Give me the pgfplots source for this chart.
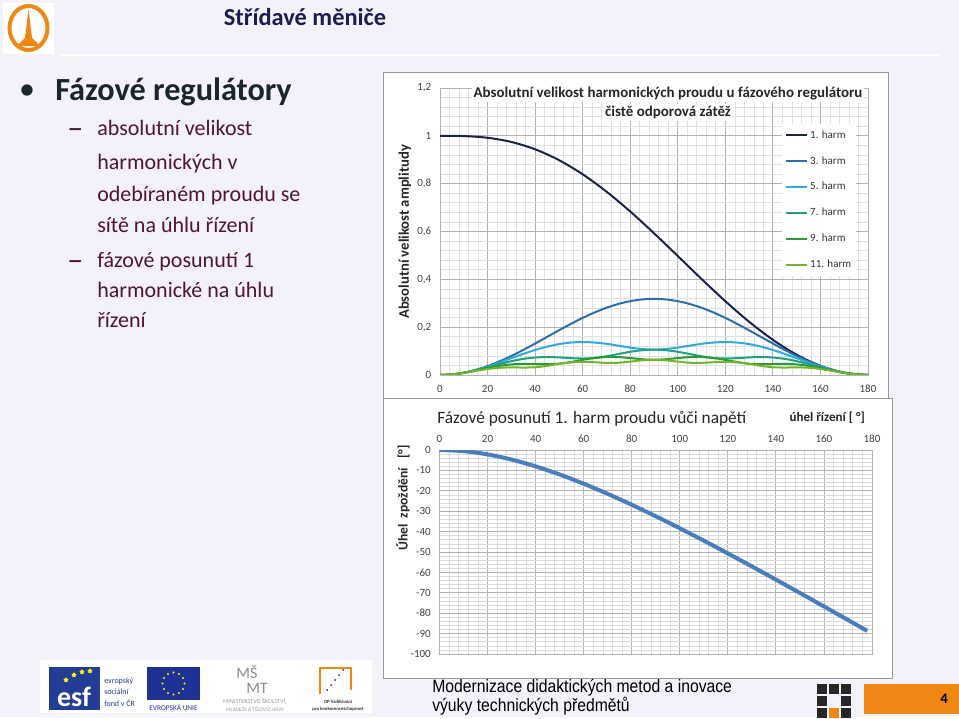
\documentclass[border=0pt]{standalone}
\usepackage{fontspec}
\setmainfont{Carlito}
\newfontfamily\footfont[FakeStretch=0.88]{Liberation Sans}
\usepackage{pgfplots}
\pgfplotsset{compat=1.18}
\usetikzlibrary{shapes.geometric}
\definecolor{bg}{RGB}{243,241,250}
\definecolor{hA}{RGB}{25,35,75}
\definecolor{hB}{RGB}{45,110,175}
\definecolor{hC}{RGB}{50,170,220}
\definecolor{hD}{RGB}{30,160,130}
\definecolor{hE}{RGB}{40,155,50}
\definecolor{hF}{RGB}{115,180,40}
\definecolor{phase}{RGB}{74,126,187}
\definecolor{orng}{RGB}{240,135,20}
\definecolor{navy}{RGB}{28,28,80}
\definecolor{maroon}{RGB}{80,22,50}
\definecolor{headc}{RGB}{25,38,45}
\definecolor{esfblue}{RGB}{35,60,150}
\definecolor{eublue}{RGB}{30,50,150}
\begin{document}
\begin{tikzpicture}[x=0.75pt,y=0.75pt]
\fill[bg] (0,0) rectangle (959,717);
% header
\draw[white, line width=1.5pt] (60,717-55) -- (940,717-55);
\fill[white] (3,717-3) rectangle (54,717-54);
\draw[orng, line width=3pt] (28.5,717-28) ellipse (19 and 22);
\fill[orng] (28.5,717-9) -- (25,717-38) -- (17,717-46) -- (40,717-46) -- (32,717-38) -- cycle;
\node[font=\bfseries\fontsize{18.3}{20}\selectfont, text=navy] at (305,717-17) {Střídavé měniče};
% left text
\node[text=headc, font=\fontsize{24}{27}\selectfont] at (27,717-92) {•};
\node[anchor=west, inner sep=0, text=headc, font=\bfseries\fontsize{24.2}{27}\selectfont] at (55,717-92) {Fázové regulátory};
\begin{scope}[every node/.style={anchor=base west, inner sep=0, text=maroon, font=\fontsize{16.5}{20}\selectfont}]
\node[font=\fontsize{24}{26}\selectfont] at (67,717-139) {–};
\node at (97,717-136) {absolutní velikost};
\node at (97,717-170) {harmonických v};
\node at (97,717-202) {odebíraném proudu se};
\node at (97,717-233) {sítě na úhlu řízení};
\node[font=\fontsize{24}{26}\selectfont] at (67,717-271) {–};
\node at (97,717-268) {fázové posunutí 1};
\node at (97,717-298) {harmonické na úhlu};
\node at (97,717-328) {řízení};
\end{scope}
% top chart
\filldraw[fill=white, draw=black!40] (383,717-72) rectangle (888,717-400);
\begin{axis}[
  at={(330pt,256.5pt)}, anchor=south west,
  scale only axis, width=321pt, height=215.25pt,
  xmin=0, xmax=180, ymin=0, ymax=1.2,
  xtick={0,20,...,180}, ytick={0,0.2,0.4,0.6,0.8,1,1.2},
  minor x tick num=4, minor y tick num=4,
  grid=both,
  major grid style={draw=black!30, line width=0.6pt},
  minor grid style={draw=black!12, line width=0.5pt},
  axis line style={draw=black!30},
  tick style={draw=none},
  ticklabel style={font=\fontsize{8.25}{10}\selectfont, text=black!75},
  yticklabel style={xshift=-3pt},
  xticklabel style={yshift=-4pt},
  /pgf/number format/use comma,
  /pgf/number format/1000 sep={},
  /pgf/number format/assume math mode=true,
  legend style={at={(0.799,0.876)}, anchor=north west, draw=none, fill=white,
    inner xsep=2pt, inner ysep=3pt, font=\fontsize{8.25}{9}\selectfont,
    row sep=8.2pt, text=black!80},
  legend cell align=left,
  legend image code/.code={\draw[#1] (0pt,0pt) -- (15.5pt,0pt);},
  every axis plot/.append style={line width=1.5pt, smooth},
]
\addplot[hA] coordinates {(0,1) (10,0.9989) (20,0.9919) (30,0.9744) (40,0.9437) (50,0.8986) (60,0.8392) (70,0.7668) (80,0.6837) (90,0.5927) (100,0.4974) (110,0.4014) (120,0.3086) (130,0.2226) (140,0.1469) (150,0.0846) (160,0.0383) (170,0.0097) (180,0)};
\addlegendentry{1. harm}
\addplot[hB] coordinates {(0,0) (5,0.0024) (10,0.0096) (15,0.0213) (20,0.0372) (25,0.0569) (30,0.0796) (35,0.1047) (40,0.1315) (45,0.1592) (50,0.1868) (55,0.2136) (60,0.2387) (65,0.2615) (70,0.2811) (75,0.2970) (80,0.3087) (85,0.3159) (90,0.3183) (95,0.3159) (100,0.3087) (105,0.2970) (110,0.2811) (115,0.2615) (120,0.2387) (125,0.2136) (130,0.1868) (135,0.1592) (140,0.1315) (145,0.1047) (150,0.0796) (155,0.0569) (160,0.0372) (165,0.0213) (170,0.0096) (175,0.0024) (180,0)};
\addlegendentry{3. harm}
\addplot[hC] coordinates {(0,0) (5,0.0024) (10,0.0095) (15,0.0207) (20,0.0352) (25,0.0521) (30,0.0702) (35,0.0881) (40,0.1046) (45,0.1186) (50,0.1292) (55,0.1357) (60,0.1378) (65,0.1358) (70,0.1304) (75,0.1227) (80,0.1146) (85,0.1085) (90,0.1061) (95,0.1085) (100,0.1146) (105,0.1227) (110,0.1304) (115,0.1358) (120,0.1378) (125,0.1357) (130,0.1292) (135,0.1186) (140,0.1046) (145,0.0881) (150,0.0702) (155,0.0521) (160,0.0352) (165,0.0207) (170,0.0095) (175,0.0024) (180,0)};
\addlegendentry{5. harm}
\addplot[hD] coordinates {(0,0) (5,0.0024) (10,0.0093) (15,0.0197) (20,0.0324) (25,0.0457) (30,0.0578) (35,0.0673) (40,0.0732) (45,0.0750) (50,0.0736) (55,0.0706) (60,0.0689) (65,0.0713) (70,0.0782) (75,0.0878) (80,0.0971) (85,0.1037) (90,0.1061) (95,0.1037) (100,0.0971) (105,0.0878) (110,0.0782) (115,0.0713) (120,0.0689) (125,0.0706) (130,0.0736) (135,0.0750) (140,0.0732) (145,0.0673) (150,0.0578) (155,0.0457) (160,0.0324) (165,0.0197) (170,0.0093) (175,0.0024) (180,0)};
\addlegendentry{7. harm}
\addplot[hE] coordinates {(0,0) (5,0.0024) (10,0.0090) (15,0.0185) (20,0.0290) (25,0.0381) (30,0.0443) (35,0.0467) (40,0.0461) (45,0.0450) (50,0.0472) (55,0.0540) (60,0.0632) (65,0.0711) (70,0.0753) (75,0.0749) (80,0.0708) (85,0.0659) (90,0.0637) (95,0.0659) (100,0.0708) (105,0.0749) (110,0.0753) (115,0.0711) (120,0.0632) (125,0.0540) (130,0.0472) (135,0.0450) (140,0.0461) (145,0.0467) (150,0.0443) (155,0.0381) (160,0.0290) (165,0.0185) (170,0.0090) (175,0.0024) (180,0)};
\addlegendentry{9. harm}
\addplot[hF] coordinates {(0,0) (5,0.0024) (10,0.0087) (15,0.0171) (20,0.0251) (25,0.0303) (30,0.0318) (35,0.0312) (40,0.0324) (45,0.0383) (50,0.0464) (55,0.0529) (60,0.0551) (65,0.0534) (70,0.0508) (75,0.0513) (80,0.0560) (85,0.0614) (90,0.0637) (95,0.0614) (100,0.0560) (105,0.0513) (110,0.0508) (115,0.0534) (120,0.0551) (125,0.0529) (130,0.0464) (135,0.0383) (140,0.0324) (145,0.0312) (150,0.0318) (155,0.0303) (160,0.0251) (165,0.0171) (170,0.0087) (175,0.0024) (180,0)};
\addlegendentry{11. harm}
\end{axis}
\node[fill=white, inner sep=1.5pt, text=black!85, font=\bfseries\fontsize{11.2}{12}\selectfont] at (668,717-94) {Absolutní velikost harmonických proudu u fázového regulátoru};
\node[fill=white, inner sep=1.5pt, text=black!85, font=\bfseries\fontsize{11.2}{12}\selectfont] at (668,717-112.5) {čistě odporová zátěž};
\node[rotate=90, text=black!85, font=\bfseries\fontsize{11}{12}\selectfont] at (405,717-232) {Absolutní velikost amplitudy};
% bottom chart
\filldraw[fill=white, draw=black!40] (383,717-398) rectangle (892,717-678);
\begin{axis}[
  at={(329.6pt,47.25pt)}, anchor=south west,
  scale only axis, width=324.4pt, height=153pt,
  xmin=0, xmax=180, ymin=-100, ymax=0,
  xtick={0,20,...,180}, ytick={-100,-90,...,0},
  xticklabel pos=right,
  minor x tick num=4, minor y tick num=4,
  grid=both,
  major grid style={draw=black!30, line width=0.6pt},
  minor grid style={draw=black!14, line width=0.5pt},
  axis line style={draw=black!30},
  tick style={draw=none},
  ticklabel style={font=\fontsize{8.25}{10}\selectfont, text=black!75},
  yticklabel style={xshift=-3pt},
  xticklabel style={yshift=2pt},
  /pgf/number format/1000 sep={},
  /pgf/number format/assume math mode=true,
]
\addplot[phase, line width=3pt, smooth] coordinates {(0,0) (10,-0.55) (20,-2.15) (30,-4.68) (40,-8.01) (50,-12.00) (60,-16.53) (70,-21.50) (80,-26.84) (90,-32.48) (100,-38.36) (110,-44.44) (120,-50.69) (130,-57.06) (140,-63.53) (150,-70.08) (160,-76.69) (170,-83.33) (175,-86.66) (178,-88.67)};
\end{axis}
\node[anchor=west, inner sep=0, text=black!85, font=\fontsize{13}{14}\selectfont] at (437,717-419) {Fázové posunutí 1. harm proudu vůči napětí};
\node[anchor=east, inner sep=0, text=black!85, font=\bfseries\fontsize{9.8}{11}\selectfont] at (865,717-418) {úhel řízení [ °]};
\node[rotate=90, text=black!85, font=\bfseries\fontsize{10.2}{11}\selectfont] at (403,717-498) {Úhel\ \ zpoždění\ \ \ [°]};
% footer logos
\fill[white] (40,717-660) rectangle (372,717-713);
\fill[esfblue] (49,717-667) rectangle (100,717-710);
\node[text=white, font=\bfseries\fontsize{21}{21}\selectfont] at (74,717-697) {esf};
\foreach \p in {(66,717-680),(74,717-675),(82,717-672),(90,717-671)}
  \node[star, star points=5, fill=yellow, inner sep=0, minimum size=4pt] at \p {};
\begin{scope}[every node/.style={anchor=west, inner sep=0, text=esfblue, font=\fontsize{6}{7}\selectfont}]
\node at (104,717-681) {evropský};
\node at (104,717-692) {sociální};
\node at (104,717-703) {fond v ČR};
\end{scope}
\fill[eublue] (147,717-667) rectangle (200,717-700);
\foreach \a in {0,30,...,330}
  \fill[yellow] ([shift={(173.5,717-683.5)}]\a:11) circle (1.1);
\node[text=eublue, font=\fontsize{5.5}{6}\selectfont, inner sep=0] at (173.5,717-707) {EVROPSKÁ UNIE};
\node[text=black!45, inner sep=0, font=\fontsize{12}{12}\selectfont] at (247,717-672) {MŠ};
\node[text=black!45, inner sep=0, font=\fontsize{12}{12}\selectfont] at (257,717-688) {MT};
\node[text=black!40, inner sep=0, font=\fontsize{4.6}{5}\selectfont] at (255,717-701) {MINISTERSTVO ŠKOLSTVÍ,};
\node[text=black!40, inner sep=0, font=\fontsize{4}{5}\selectfont] at (255,717-709) {MLÁDEŽE A TĚLOVÝCHOVY};
\draw[orng, line width=1.2pt] (320,717-694) -- (320,717-668) -- (351,717-668) -- (351,717-690);
\foreach \p in {(327,717-690),(331,717-685),(335,717-680),(339,717-675),(343,717-670)}
  \fill[black!80] \p circle (1);
\node[text=black!80, inner sep=0, font=\bfseries\fontsize{3.6}{4}\selectfont] at (338,717-702) {OP Vzdělávání};
\node[text=black!80, inner sep=0, font=\bfseries\fontsize{3.6}{4}\selectfont] at (338,717-709) {pro konkurenceschopnost};
% footer right
\node[anchor=west, inner sep=0, font=\footfont\fontsize{13.4}{15}\selectfont] at (432,717-688) {Modernizace didaktických metod a inovace};
\node[anchor=west, inner sep=0, font=\footfont\fontsize{13.4}{15}\selectfont] at (432,717-706) {výuky technických předmětů};
\foreach \x/\y in {817/684,829/684,841/684,817/696,841/696,817/708,841/708}
  \fill[black!85] (\x,717-\y) rectangle (\x+10,717-\y-10);
\fill[orng] (829,717-708) rectangle (839,717-718);
\fill[orng] (864,717-684) rectangle (959,717-714);
\node[font=\bfseries\fontsize{11}{12}\selectfont] at (944,717-699) {4};
\end{tikzpicture}
\end{document}
